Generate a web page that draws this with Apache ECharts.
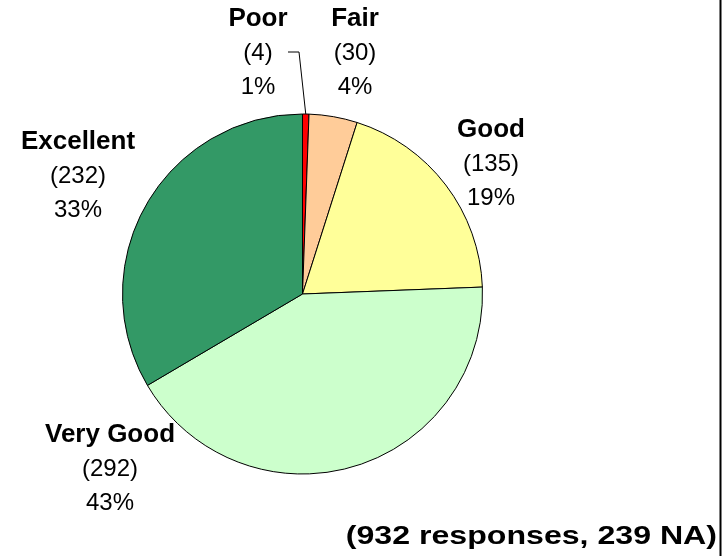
<!DOCTYPE html>
<html>
<head>
<meta charset="utf-8">
<script src="https://cdn.jsdelivr.net/npm/echarts@6/dist/echarts.min.js"></script>
<style>
html,body{margin:0;padding:0;background:#fff;}
#chart{width:723px;height:556px;}
</style>
</head>
<body>
<div id="chart"></div>
<script>
const categories = ['Poor', 'Fair', 'Good', 'Very Good', 'Excellent'];
const counts = [4, 30, 135, 292, 232];
const pctLabels = ['1%', '4%', '19%', '43%', '33%'];
const colors = ['#FF0000', '#FFCC99', '#FFFF99', '#CCFFCC', '#339966'];
const footnote = '(932 responses, 239 NA)';

const labelPos = [
  {x: 258, y: 53},
  {x: 355, y: 53},
  {x: 491, y: 164},
  {x: 110, y: 469},
  {x: 78, y: 176}
];

const chart = echarts.init(document.getElementById('chart'));
const font = '"Liberation Sans", Arial, sans-serif';

chart.setOption({
  backgroundColor: '#ffffff',
  animation: false,
  graphic: [{
    type: 'line',
    shape: {x1: 720.5, y1: 0, x2: 720.5, y2: 556},
    style: {stroke: '#000', lineWidth: 2}
  }, {
    type: 'group',
    x: 717,
    y: 537,
    scaleX: 1.235,
    children: [{
      type: 'text',
      style: {
        text: footnote, x: 0, y: 0, align: 'right', verticalAlign: 'middle',
        font: 'bold 26px "Liberation Sans", Arial, sans-serif', fill: '#000'
      }
    }]
  }],
  series: [{
    type: 'pie',
    center: [302.5, 294],
    radius: 180,
    startAngle: 90,
    clockwise: true,
    avoidLabelOverlap: false,
    itemStyle: {borderColor: '#000', borderWidth: 1},
    label: {
      show: true,
      position: 'outside',
      formatter: function (p) {
        return '{b|' + p.name + '}\n{v|(' + p.value + ')}\n{v|' + pctLabels[p.dataIndex] + '}';
      },
      rich: {
        b: {fontFamily: font, fontSize: 26, fontWeight: 'bold', color: '#000', lineHeight: 34, align: 'center'},
        v: {fontFamily: font, fontSize: 24, color: '#000', lineHeight: 34, align: 'center'}
      }
    },
    labelLine: {show: false},
    labelLayout: function (params) {
      const i = params.dataIndex;
      const res = {x: labelPos[i].x, y: labelPos[i].y, align: 'center', verticalAlign: 'middle'};
      if (i === 0 && params.labelLinePoints) {
        const s = params.labelLinePoints[0];
        res.labelLinePoints = [[s[0], s[1]], [299, 52], [288, 52]];
      }
      return res;
    },
    data: categories.map((c, i) => ({
      name: c,
      value: counts[i],
      itemStyle: {color: colors[i]},
      labelLine: i === 0 ? {show: true, length: 8, length2: 8, lineStyle: {color: '#000', width: 1}} : {show: false}
    }))
  }]
});
</script>
</body>
</html>
